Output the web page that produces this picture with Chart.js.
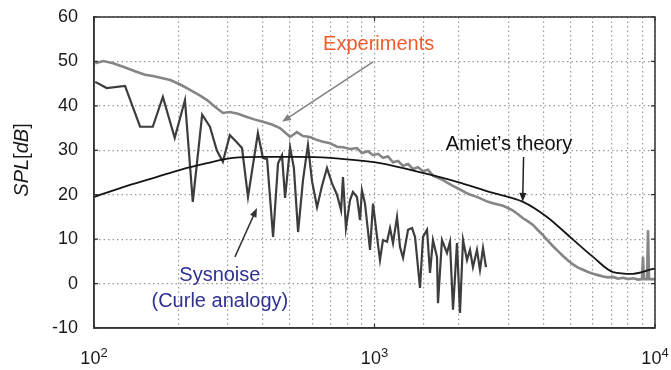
<!DOCTYPE html>
<html>
<head>
<meta charset="utf-8">
<script src="https://cdn.jsdelivr.net/npm/chart.js@4"></script>
<style>
    html, body { margin: 0; padding: 0; background: #fff; }
    canvas { display: block; }
</style>
</head>
<body>
<canvas id="spl" width="671" height="370"></canvas>
<script>
// Measured spectrum (Hz / dB)
var expFreq = [101, 108, 117, 127, 140, 152, 162, 187, 203, 220, 239, 253, 270, 288, 305, 326,
    351, 375, 400, 431, 460, 480, 500, 529, 556, 589, 619, 655, 694, 735, 772, 818, 866, 902,
    948, 988, 1029, 1072, 1117, 1164, 1213, 1264, 1317, 1372, 1429, 1489, 1551, 1616, 1684,
    1755, 1828, 1905, 1985, 2068, 2154, 2244, 2339, 2437, 2539, 2645, 2756, 2872, 2992, 3117,
    3248, 3384, 3526, 3674, 3828, 3988, 4155, 4330, 4511, 4699, 4896, 5102, 5316, 5538, 5770,
    6012, 6264, 6526, 6799, 7085, 7382, 7691, 8013, 8349, 8699, 8987, 9060, 9137, 9366, 9443,
    9520, 9837, 10000];
var expSpl = [49.6, 50.1, 49.6, 48.8, 47.8, 47.0, 46.7, 45.8, 44.8, 43.6, 42.3, 41.3, 39.8, 38.4,
    38.6, 38.2, 37.5, 36.9, 36.4, 35.8, 35.0, 34.0, 33.0, 34.1, 33.2, 33.0, 32.4, 31.9, 31.6,
    30.8, 30.7, 30.3, 30.5, 29.4, 29.8, 28.9, 29.2, 28.3, 28.6, 27.3, 27.6, 26.5, 26.9, 25.8,
    26.2, 25.3, 25.6, 24.3, 23.8, 23.3, 22.6, 22.0, 21.4, 20.8, 20.2, 19.8, 19.4, 18.9, 18.4,
    18.1, 17.8, 17.5, 17.0, 16.4, 15.6, 14.7, 14.0, 13.2, 12.0, 10.9, 9.6, 8.4, 7.3, 6.2, 5.2,
    4.3, 3.6, 3.1, 2.6, 2.2, 1.9, 1.6, 1.4, 1.5, 1.1, 1.3, 1.0, 1.2, 0.9, 1.0, 6.0, 1.0, 1.0,
    12.0, 1.0, 1.0, 0.9];

// Sysnoise (Curle analogy)
var sysFreq = [101, 111, 129, 146, 162, 176, 194, 211, 225, 243, 259, 274, 288, 305, 321, 337,
    354, 384, 400, 414, 435, 453, 468, 480, 500, 516, 534, 556, 579, 599, 624, 650, 677, 705,
    735, 760, 772, 791, 818, 838, 866, 888, 902, 925, 964, 988, 1021, 1046, 1072, 1108, 1136,
    1164, 1203, 1233, 1264, 1317, 1361, 1395, 1453, 1489, 1539, 1577, 1616, 1670, 1684, 1740,
    1813, 1858, 1905, 1968, 2017, 2068, 2137, 2190, 2244, 2319, 2377, 2437, 2497];
var sysSpl = [45.4, 44.0, 44.5, 35.3, 35.3, 42.0, 32.8, 41.3, 18.4, 38.0, 35.3, 30.0, 27.4, 33.4,
    32.0, 30.5, 19.5, 33.9, 28.3, 28.0, 10.5, 27.1, 28.9, 19.3, 30.7, 26.0, 11.6, 23.3, 31.2,
    23.0, 17.2, 22.0, 26.0, 22.6, 20.0, 16.5, 24.0, 12.5, 18.8, 20.6, 19.5, 14.3, 21.0, 18.0,
    7.6, 18.0, 10.5, 5.3, 9.8, 9.4, 12.5, 9.1, 15.0, 8.2, 5.8, 12.1, 12.5, 10.5, -1.0, 10.5,
    12.1, 2.4, 9.8, 6.0, -4.4, 9.8, 6.9, 9.4, -5.9, 9.1, -6.6, 9.8, 5.3, 7.6, 3.7, 7.6, 3.1,
    8.0, 3.7];

// Amiet's theory
var amietFreq = [100, 127, 168, 203, 253, 313, 400, 529, 694, 910, 1046, 1489, 1968, 2581, 3384,
    4121, 4977, 6012, 7085, 8349, 9837, 10000];
var amietSpl = [19.5, 21.7, 24.0, 25.6, 27.1, 28.3, 28.5, 28.5, 28.3, 27.6, 27.1, 24.9, 22.9,
    20.6, 18.4, 15.0, 10.5, 6.0, 2.6, 2.2, 3.3, 3.4];

var decades = [2, 3, 4];

var FONT = "'Liberation Sans', Arial, sans-serif";

var NOTES = [
    { text: "Experiments", f: 1035, v: 53.9, color: "#f15a2b" },
    { text: "Amiet\u2019s theory", f: 3017, v: 31.4, color: "#111" },
    { text: "Sysnoise", f: 281, v: 1.9, color: "#2e3192" },
    { text: "(Curle analogy)", f: 281, v: -4.1, color: "#2e3192" }
];

var ARROWS = [
    { from: [988, 49.9], to: [468, 36.4], color: "#808080" },
    { from: [3400, 28.5], to: [3375, 18.4], color: "#222" },
    { from: [318, 6.0], to: [381, 17.0], color: "#333" }
];

function toPoints(xs, ys) {
    var out = [];
    for (var i = 0; i < xs.length; i++) {
        out.push({ x: xs[i], y: ys[i] });
    }
    return out;
}

function arrow(ctx, x1, y1, x2, y2, color) {
    var ang = Math.atan2(y2 - y1, x2 - x1),
        len = 9,
        half = 3.5;
    ctx.save();
    ctx.strokeStyle = color;
    ctx.fillStyle = color;
    ctx.lineWidth = 1.5;
    ctx.beginPath();
    ctx.moveTo(x1, y1);
    ctx.lineTo(x2 - Math.cos(ang) * len * 0.8, y2 - Math.sin(ang) * len * 0.8);
    ctx.stroke();
    ctx.beginPath();
    ctx.moveTo(x2, y2);
    ctx.lineTo(x2 - Math.cos(ang) * len - Math.sin(ang) * half, y2 - Math.sin(ang) * len + Math.cos(ang) * half);
    ctx.lineTo(x2 - Math.cos(ang) * len + Math.sin(ang) * half, y2 - Math.sin(ang) * len - Math.cos(ang) * half);
    ctx.closePath();
    ctx.fill();
    ctx.restore();
}

// frame, inward ticks, decade labels, y title and the callouts
var decorPlugin = {
    id: "decor",
    afterDatasetsDraw: function(chart) {
        var ctx = chart.ctx,
            a = chart.chartArea,
            x = chart.scales.x,
            y = chart.scales.y;

        ctx.save();
        ctx.strokeStyle = "#333";
        ctx.lineWidth = 1.5;
        ctx.strokeRect(a.left, a.top, a.right - a.left, a.bottom - a.top);

        ctx.lineWidth = 1.2;
        ctx.beginPath();
        for (var v = -10; v <= 60; v += 10) {
            var py = y.getPixelForValue(v);
            ctx.moveTo(a.left, py);
            ctx.lineTo(a.left + 4, py);
            ctx.moveTo(a.right, py);
            ctx.lineTo(a.right - 4, py);
        }
        decades.forEach(function(k) {
            var px = x.getPixelForValue(Math.pow(10, k));
            ctx.moveTo(px, a.bottom);
            ctx.lineTo(px, a.bottom - 4);
            ctx.moveTo(px, a.top);
            ctx.lineTo(px, a.top + 4);
        });
        ctx.stroke();

        // 10^k labels
        ctx.fillStyle = "#1a1a1a";
        ctx.textBaseline = "alphabetic";
        ctx.textAlign = "left";
        decades.forEach(function(k) {
            var px = x.getPixelForValue(Math.pow(10, k));
            ctx.font = "18px " + FONT;
            var wb = ctx.measureText("10").width;
            ctx.font = "13px " + FONT;
            var we = ctx.measureText(String(k)).width;
            var left = px - (wb + we) / 2;
            if (left + wb + we > chart.width) {
                left = chart.width - wb - we - 2;
            }
            ctx.font = "18px " + FONT;
            ctx.fillText("10", left, 363.5);
            ctx.font = "13px " + FONT;
            ctx.fillText(String(k), left + wb, 356.5);
        });

        // SPL[dB] with italic symbols
        var parts = [["SPL", "italic "], ["[", ""], ["dB", "italic "], ["]", ""]];
        var total = 0;
        parts.forEach(function(p) {
            ctx.font = p[1] + "20px " + FONT;
            total += ctx.measureText(p[0]).width;
        });
        ctx.translate(22, 160);
        ctx.rotate(-Math.PI / 2);
        ctx.textBaseline = "middle";
        var cx = -total / 2;
        parts.forEach(function(p) {
            ctx.font = p[1] + "20px " + FONT;
            ctx.fillText(p[0], cx, 0);
            cx += ctx.measureText(p[0]).width;
        });
        ctx.restore();

        ARROWS.forEach(function(ar) {
            arrow(ctx,
                x.getPixelForValue(ar.from[0]), y.getPixelForValue(ar.from[1]),
                x.getPixelForValue(ar.to[0]), y.getPixelForValue(ar.to[1]),
                ar.color);
        });

        ctx.save();
        ctx.font = "20px " + FONT;
        ctx.textAlign = "center";
        ctx.textBaseline = "middle";
        NOTES.forEach(function(n) {
            ctx.fillStyle = n.color;
            ctx.fillText(n.text, x.getPixelForValue(n.f), y.getPixelForValue(n.v));
        });
        ctx.restore();
    }
};

Chart.defaults.font.family = FONT;

new Chart(document.getElementById("spl").getContext("2d"), {
    type: "line",
    data: {
        datasets: [{
            label: "Amiet's theory",
            data: toPoints(amietFreq, amietSpl),
            borderColor: "#151515",
            borderWidth: 1.8,
            cubicInterpolationMode: "monotone",
            pointRadius: 0
        }, {
            label: "Sysnoise",
            data: toPoints(sysFreq, sysSpl),
            borderColor: "#3d3d3d",
            borderWidth: 2.2,
            pointRadius: 0
        }, {
            label: "Experiments",
            data: toPoints(expFreq, expSpl),
            borderColor: "#858585",
            borderWidth: 2.6,
            pointRadius: 0
        }]
    },
    options: {
        responsive: false,
        animation: false,
        layout: {
            padding: { top: 17, right: 16, left: 0, bottom: 0 }
        },
        plugins: {
            legend: { display: false },
            tooltip: { enabled: false }
        },
        scales: {
            x: {
                type: "logarithmic",
                min: 100,
                max: 10000,
                afterFit: function(scale) {
                    scale.height = 42;
                    scale.paddingLeft = 0;
                    scale.paddingRight = 0;
                },
                ticks: {
                    display: false,
                    autoSkip: false
                },
                grid: {
                    color: "#9a9a9a",
                    lineWidth: 1.2,
                    drawTicks: false
                },
                border: {
                    color: "#333",
                    width: 1.5,
                    dash: [1.5, 3]
                }
            },
            y: {
                min: -10,
                max: 60,
                afterFit: function(scale) {
                    scale.width = 94;
                    scale.paddingTop = 0;
                    scale.paddingBottom = 0;
                },
                ticks: {
                    stepSize: 10,
                    padding: 16,
                    color: "#1a1a1a",
                    font: { size: 18 }
                },
                grid: {
                    color: "#9a9a9a",
                    lineWidth: 1.2,
                    drawTicks: false
                },
                border: {
                    color: "#333",
                    width: 1.5,
                    dash: [1.5, 3]
                }
            }
        }
    },
    plugins: [decorPlugin]
});
</script>
</body>
</html>
